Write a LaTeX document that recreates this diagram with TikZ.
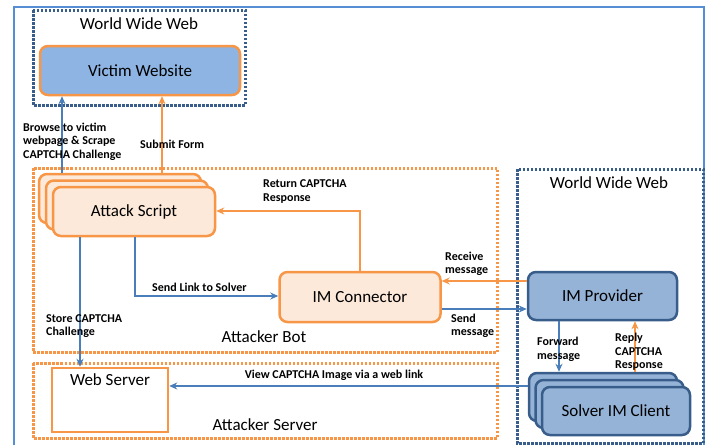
\documentclass[tikz,border=0pt]{standalone}
\usepackage{fontspec}
\setmainfont{Carlito}
\usepackage{tikz}
\usepackage{xcolor}
\usetikzlibrary{positioning, arrows.meta}
\definecolor{boxorange}{HTML}{F79646}
\definecolor{peach}{HTML}{FDE9D9}
\definecolor{skyfill}{HTML}{8EB4E3}
\definecolor{provfill}{HTML}{95B3D7}
\definecolor{provline}{HTML}{385D8A}
\definecolor{linkblue}{HTML}{4A7EBB}
\definecolor{outerblue}{HTML}{558ED5}
\tikzstyle{title} = [font=\fontsize{17}{20}\selectfont]
\tikzstyle{lbl} = [font=\fontsize{12}{13.5}\selectfont\bfseries, align=left, inner sep=0]
\tikzstyle{botbox} = [draw=boxorange, fill=peach, line width=2.5pt, rounded corners=8pt, title]
\tikzstyle{webbox} = [draw=provline, fill=provfill, line width=2.5pt, rounded corners=8pt, title]
\tikzstyle{wwwzone} = [draw=provline, line width=3pt, dash pattern=on 2.5pt off 1.5pt]
\tikzstyle{botzone} = [draw=boxorange, line width=3pt, dash pattern=on 2.5pt off 1.5pt]
\tikzstyle{bluearrow} = [draw=linkblue, line width=2pt, -{Stealth[length=8pt, width=7pt]}]
\tikzstyle{orangearrow} = [draw=boxorange, line width=2pt, -{Stealth[length=8pt, width=7pt]}]

\begin{document}
\begin{tikzpicture}[x=1pt, y=-1pt]
        \useasboundingbox (0,0) rectangle (707,445);
        \draw[outerblue, line width=2pt] (14,445) -- (14,7) -- (704,7) -- (704,445);
        % zones
        \draw[wwwzone] (33,10) rectangle (245,105);
        \node[title] (wwwtop) at (139,24) {World Wide Web};
        \draw[wwwzone] (517,169) rectangle (703,443);
        \node[title] (wwwright) at (609,183) {World Wide Web};
        \draw[botzone] (33,168) rectangle (497,352);
        \node[title] (botname) at (264,337) {Attacker Bot};
        \draw[botzone] (33,363) rectangle (497,438);
        \node[title] (srvname) at (265,425) {Attacker Server};
        % boxes
        \node[webbox, draw=boxorange, fill=skyfill, minimum width=200pt, minimum height=49pt] (victim) at (140,70.5) {Victim Website};
        \node[botbox, minimum width=162pt, minimum height=49pt] (attackc) at (120,198.5) {};
        \node[botbox, minimum width=162pt, minimum height=49pt] (attackb) at (127,205) {};
        \node[botbox, minimum width=162pt, minimum height=49pt] (attack) at (134,211.5) {Attack Script};
        \node[botbox, minimum width=161pt, minimum height=50pt] (imconn) at (360,297) {IM Connector};
        \node[webbox, minimum width=149pt, minimum height=48pt] (improv) at (602.5,296) {IM Provider};
        \node[webbox, minimum width=148pt, minimum height=48pt] (solverc) at (603,397) {};
        \node[webbox, minimum width=148pt, minimum height=48pt] (solverb) at (609.5,404) {};
        \node[webbox, minimum width=148pt, minimum height=48pt] (solver) at (616,411) {Solver IM Client};
        \node[draw=boxorange, line width=2.5pt, minimum width=116pt, minimum height=64pt] (web) at (110,400) {};
        \node[title, below=3pt of web.north] (webname) {Web Server};
        % connectors
        \coordinate (xa) at (62,0);
        \coordinate (xb) at (162,0);
        \coordinate (xc) at (80,0);
        \coordinate (xd) at (135,0);
        \coordinate (xe) at (559,0);
        \coordinate (xf) at (635,0);
        \coordinate (yr) at (0,211);
        \coordinate (yin) at (0,281);
        \coordinate (yout) at (0,309);
        \coordinate (yview) at (0,386);
        \coordinate (ysend) at (0,296);
        \draw[bluearrow] (attackc.north -| xa) -- (victim.south -| xa);
        \draw[orangearrow] (attackc.north -| xb) -- (victim.south -| xb);
        \draw[bluearrow] (attack.south -| xc) -- (web.north -| xc);
        \draw[bluearrow] (attack.south -| xd) -- (xd |- ysend) -- (imconn.west |- ysend);
        \draw[orangearrow] (imconn.north) -- (imconn.north |- yr) -- (attack.east |- yr);
        \draw[orangearrow] (improv.west |- yin) -- (imconn.east |- yin);
        \draw[bluearrow] (imconn.east |- yout) -- (improv.west |- yout);
        \draw[bluearrow] (improv.south -| xe) -- (solverc.north -| xe);
        \draw[orangearrow] (solverc.north -| xf) -- (improv.south -| xf);
        \draw[bluearrow] (solverc.west |- yview) -- (web.east |- yview);
        % labels
        \node[lbl, anchor=west] (browsetxt) at (23,141.5) {Browse to victim\\webpage \& Scrape\\CAPTCHA Challenge};
        \node[lbl, anchor=west] (submittxt) at (140,144) {Submit Form};
        \node[lbl, anchor=west] (returntxt) at (263,191.5) {Return CAPTCHA\\Response};
        \node[lbl, anchor=west] (linktxt) at (152,287) {Send Link to Solver};
        \node[lbl, anchor=west] (storetxt) at (46,326) {Store CAPTCHA\\Challenge};
        \node[lbl, anchor=west] (receivetxt) at (445,264) {Receive\\message};
        \node[lbl, anchor=west] (sendtxt) at (451,326) {Send\\message};
        \node[lbl, anchor=west] (forwardtxt) at (537,349.5) {Forward\\message};
        \node[lbl, anchor=west] (replytxt) at (615,352) {Reply\\CAPTCHA\\Response};
        \node[lbl] (viewtxt) at (334,375) {View CAPTCHA Image via a web link};
\end{tikzpicture}
\end{document}
